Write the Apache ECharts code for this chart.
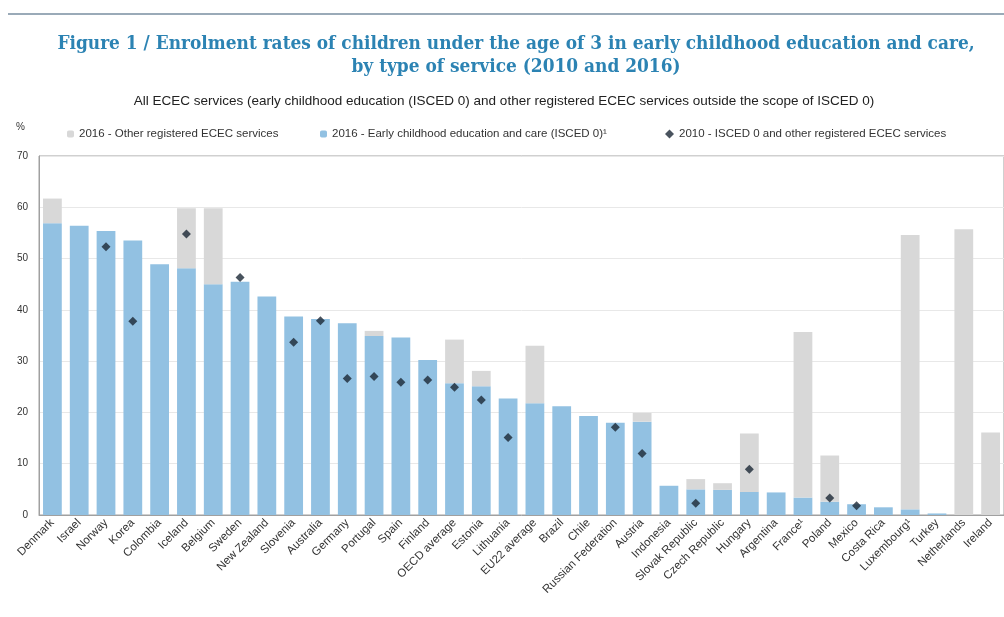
<!DOCTYPE html>
<html>
<head>
<meta charset="utf-8">
<script src="https://cdn.jsdelivr.net/npm/echarts@6/dist/echarts.min.js"></script>
<style>
html,body{margin:0;padding:0;background:#fff;}
#chart{width:1004px;height:617px;}
</style>
</head>
<body>
<div id="chart"></div>
<script>
const categories = ["Denmark","Israel","Norway","Korea","Colombia","Iceland","Belgium","Sweden","New Zealand","Slovenia","Australia","Germany","Portugal","Spain","Finland","OECD average","Estonia","Lithuania","EU22 average","Brazil","Chile","Russian Federation","Austria","Indonesia","Slovak Republic","Czech Republic","Hungary","Argentina","France\u00b9","Poland","Mexico","Costa Rica","Luxembourg\u00b9","Turkey","Netherlands","Ireland"];
// 2016 - Early childhood education and care (ISCED 0)
const isced0_2016 = [56.9,56.4,55.4,53.5,48.9,48.1,45.0,45.5,42.6,38.7,38.2,37.4,34.9,34.6,30.2,25.7,25.1,22.7,21.8,21.2,19.3,18.0,18.2,5.7,5.0,4.9,4.5,4.4,3.4,2.6,2.1,1.5,1.1,0.3,0,0];
// 2016 - Other registered ECEC services (stacked on top)
const other_2016 = [4.8,0,0,0,0,11.7,14.8,0,0,0,0,0,1.0,0,0,8.5,3.0,0,11.2,0,0,0,1.7,0,2.0,1.3,11.4,0,32.3,9.0,0,0,53.5,0,55.7,16.1];
// 2010 - ISCED 0 and other registered ECEC services
const total_2010 = [null,null,52.3,37.8,null,54.8,null,46.3,null,33.7,37.9,26.6,27.0,25.9,26.3,24.9,22.4,15.1,null,null,null,17.1,12.0,null,2.3,null,8.9,null,null,3.3,1.8,null,null,null,null,null];
const yTicks = [0,10,20,30,40,50,60,70];

const names = ["2016 - Other registered ECEC services","2016 - Early childhood education and care (ISCED 0)\u00b9","2010 - ISCED 0 and other registered ECEC services"];
const chart = echarts.init(document.getElementById('chart'), null, {renderer:'canvas'});
const legTxt = {fontFamily:'Liberation Sans', fontSize:11.5, color:'#333'};
chart.setOption({
  animation:false,
  backgroundColor:'#fff',
  title:[
    {text:'Figure 1 / Enrolment rates of children under the age of 3 in early childhood education and care,\nby type of service (2010 and 2016)',
     left:516, top:33, textAlign:'center', padding:0,
     textStyle:{fontFamily:'DejaVu Serif Condensed', fontWeight:'bold', fontSize:18.9, lineHeight:23, color:'#2c83b3'}},
    {text:'All ECEC services (early childhood education (ISCED 0) and other registered ECEC services outside the scope of ISCED 0)',
     left:504, top:94, textAlign:'center', padding:0,
     textStyle:{fontFamily:'Liberation Sans', fontWeight:'normal', fontSize:13.5, color:'#222'}}
  ],
  graphic:[{type:'line', shape:{x1:8,y1:14,x2:1004,y2:14}, style:{stroke:'#9aaab8', lineWidth:2}}],
  legend:[
    {data:[names[0]], left:62, top:123, itemWidth:7, itemHeight:7, itemGap:6, textStyle:legTxt},
    {data:[names[1]], left:315, top:123, itemWidth:7, itemHeight:7, itemGap:6, textStyle:legTxt},
    {data:[{name:names[2], icon:'diamond'}], left:660, top:123, itemWidth:9, itemHeight:9, itemGap:6, textStyle:legTxt}
  ],
  grid:{left:39, right:-6.5, top:156, bottom:102, show:true, borderColor:'#a0a0a0', borderWidth:1, containLabel:false},
  xAxis:{type:'category', data:categories,
    axisLine:{lineStyle:{color:'#a0a0a0'}}, axisTick:{show:false},
    axisLabel:{interval:0, rotate:45, fontFamily:'Liberation Sans', fontSize:11.5, color:'#333', margin:6}},
  yAxis:{type:'value', min:0, max:70, interval:10,
    name:'%', nameLocation:'end', nameGap:24,
    nameTextStyle:{fontFamily:'Liberation Sans', fontSize:10, color:'#333', align:'right', padding:[0,14,0,0]},
    axisLine:{show:true, lineStyle:{color:'#a0a0a0'}}, axisTick:{show:false},
    axisLabel:{fontFamily:'Liberation Sans', fontSize:10, color:'#333', margin:11,
      formatter:function(v){return yTicks.indexOf(v)>=0? String(v):'';}},
    splitLine:{lineStyle:{color:'#e8e8e8'}}},
  series:[
    {name:names[1], type:'bar', stack:'a', data:isced0_2016, barWidth:'70%', itemStyle:{color:'#92c1e2'}},
    {name:names[0], type:'bar', stack:'a', data:other_2016, barWidth:'70%', itemStyle:{color:'#d8d8d8'}},
    {name:names[2], type:'scatter', data:total_2010, symbol:'diamond', symbolSize:9, itemStyle:{color:'#1c2836'}, z:5}
  ]
});
</script>
</body>
</html>
